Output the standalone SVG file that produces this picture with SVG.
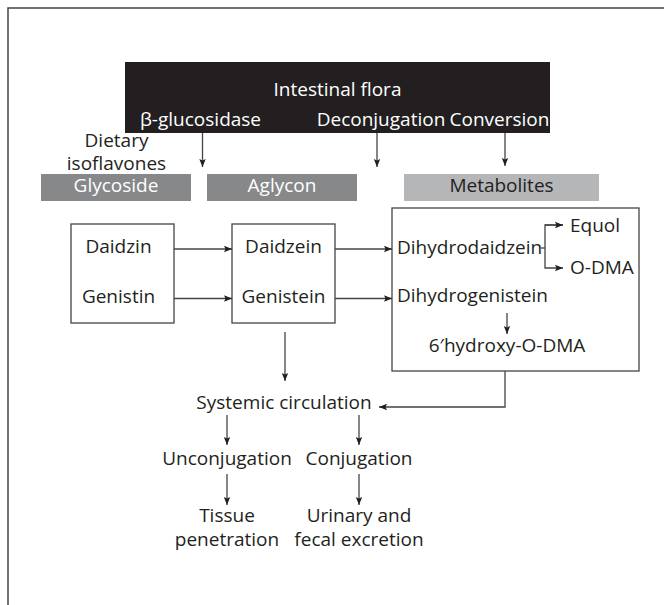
<svg xmlns="http://www.w3.org/2000/svg" width="664" height="605" viewBox="0 0 664 605">
<defs>
<marker id="ah" markerUnits="userSpaceOnUse" markerWidth="10" markerHeight="8" refX="8" refY="4" orient="auto">
<path d="M0,0.8 L8,4 L0,7.2 L1.5,4 Z" fill="#231f20"/>
</marker>
<style>
text{font-family:"Open Sans","Noto Sans","DejaVu Sans",sans-serif;font-size:19px;fill:#231f20;text-anchor:middle}
.w{fill:#ffffff}
.l{text-anchor:start}
.box{fill:#ffffff;stroke:#444;stroke-width:1.3}
.c{fill:none;stroke:#444;stroke-width:1.3}
.a{marker-end:url(#ah)}
</style>
</defs>
<rect width="664" height="605" fill="#fff"/>
<path d="M8,605 V8 H664" fill="none" stroke="#444" stroke-width="1.5"/>
<g id="flora">
<rect x="125" y="62" width="425" height="71" fill="#231f20"/>
<text class="w" x="337.5" y="96">Intestinal flora</text>
<text class="w" x="200.5" y="126">β-glucosidase</text>
<text class="w" x="381" y="126">Deconjugation</text>
<text class="w" x="499.5" y="126">Conversion</text>
</g>
<g id="dietary">
<text x="116.5" y="147">Dietary</text>
<text x="116.5" y="169.5">isoflavones</text>
</g>
<g id="glycoside">
<rect x="41" y="174" width="150" height="27" fill="#87888a"/>
<text class="w" x="116" y="192">Glycoside</text>
</g>
<g id="aglycon">
<rect x="207" y="174" width="150" height="27" fill="#87888a"/>
<text class="w" x="282" y="192">Aglycon</text>
</g>
<g id="metabolites">
<rect x="404" y="174" width="195" height="27" fill="#b5b6b8"/>
<text x="501.5" y="192">Metabolites</text>
</g>
<g id="glycoside-box">
<rect class="box" x="71" y="224" width="103" height="99"/>
<text x="118.5" y="253">Daidzin</text>
<text x="118.5" y="302.5">Genistin</text>
</g>
<g id="aglycon-box">
<rect class="box" x="232" y="224" width="103" height="99"/>
<text x="283.5" y="253">Daidzein</text>
<text x="283.5" y="302.5">Genistein</text>
</g>
<g id="metabolites-box">
<rect class="box" x="392" y="208" width="247" height="163"/>
<text class="l" x="397" y="253.5">Dihydrodaidzein</text>
<text class="l" x="397" y="302">Dihydrogenistein</text>
<text x="507" y="352">6′hydroxy-O-DMA</text>
<text class="l" x="570" y="232">Equol</text>
<text class="l" x="570" y="273.5">O-DMA</text>
</g>
<g id="systemic">
<text x="284" y="409">Systemic circulation</text>
</g>
<g id="unconjugation">
<text x="227" y="465">Unconjugation</text>
</g>
<g id="conjugation">
<text x="359" y="465">Conjugation</text>
</g>
<g id="tissue">
<text x="227" y="522">Tissue</text>
<text x="227" y="546">penetration</text>
</g>
<g id="excretion">
<text x="359" y="522">Urinary and</text>
<text x="359" y="546">fecal excretion</text>
</g>
<g id="connectors">
<line class="c a" x1="202.5" y1="133" x2="202.5" y2="167"/>
<line class="c a" x1="377" y1="133" x2="377" y2="167"/>
<line class="c a" x1="505" y1="133" x2="505" y2="166"/>
<line class="c a" x1="174" y1="249" x2="232" y2="249"/>
<line class="c a" x1="174" y1="298.5" x2="232" y2="298.5"/>
<line class="c a" x1="335" y1="249" x2="392" y2="249"/>
<line class="c a" x1="335" y1="298.5" x2="392" y2="298.5"/>
<path class="c" d="M541,248 H545"/>
<path class="c a" d="M563,225 H545 V268 H563"/>
<path class="c a" d="M545,225 H563"/>
<line class="c a" x1="507" y1="313" x2="507" y2="334"/>
<line class="c a" x1="285" y1="332" x2="285" y2="381"/>
<path class="c a" d="M505,371 V407 H379"/>
<line class="c a" x1="227" y1="415" x2="227" y2="445"/>
<line class="c a" x1="359" y1="415" x2="359" y2="445"/>
<line class="c a" x1="227" y1="474" x2="227" y2="505"/>
<line class="c a" x1="359" y1="474" x2="359" y2="505"/>
</g>
</svg>
